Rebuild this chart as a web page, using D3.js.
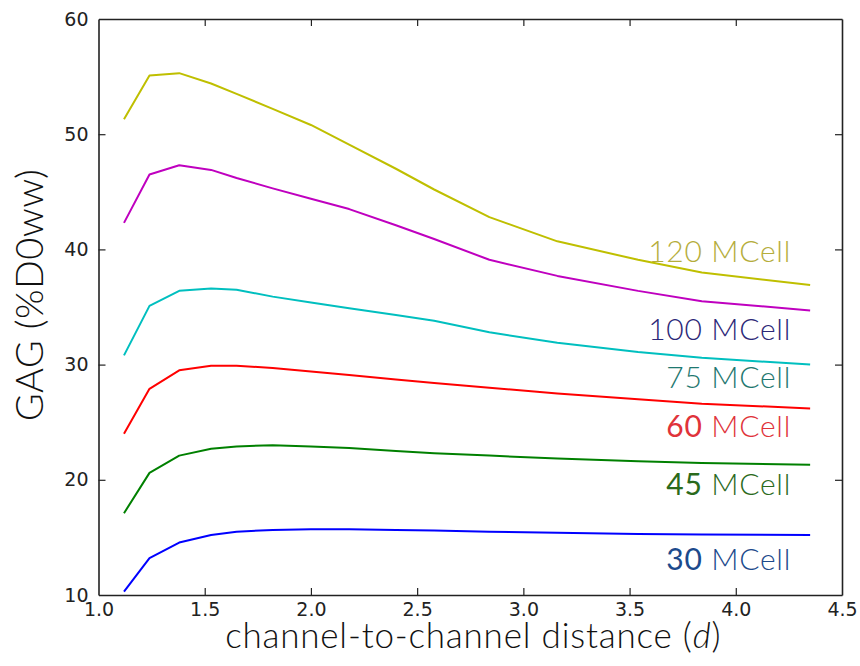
<!DOCTYPE html>
<html>
<head>
<meta charset="utf-8">
<script src="https://cdn.jsdelivr.net/npm/d3@7/dist/d3.min.js"></script>
<style>
  body { margin: 0; background: #ffffff; }
  svg { display: block; }
  .tick text { font-family: "DejaVu Sans", sans-serif; font-size: 19px; fill: #222; }
  .title { font-family: Lato, "Liberation Sans", sans-serif; font-weight: 300; fill: #111; }
</style>
</head>
<body>
<svg id="chart" width="860" height="666"></svg>
<script>
// channel-to-channel distance
var distance = [1.12, 1.24, 1.38, 1.53, 1.65, 1.82, 2.0, 2.18, 2.4, 2.58, 2.84, 3.16, 3.54, 3.84, 4.35];

var gag120 = [51.3, 55.1, 55.3, 54.4, 53.5, 52.2, 50.8, 49.1, 47.0, 45.2, 42.8, 40.7, 39.1, 38.0, 36.9];
var gag100 = [42.3, 46.5, 47.3, 46.9, 46.2, 45.3, 44.4, 43.5, 42.1, 40.9, 39.1, 37.7, 36.4, 35.5, 34.7];
var gag75  = [30.8, 35.1, 36.4, 36.6, 36.5, 35.9, 35.4, 34.9, 34.3, 33.8, 32.8, 31.9, 31.1, 30.6, 30.0];
var gag60  = [24.0, 27.9, 29.5, 29.9, 29.9, 29.7, 29.4, 29.1, 28.7, 28.4, 28.0, 27.5, 27.0, 26.6, 26.2];
var gag45  = [17.1, 20.6, 22.1, 22.7, 22.9, 23.0, 22.9, 22.75, 22.5, 22.3, 22.1, 21.85, 21.6, 21.45, 21.3];
var gag30  = [10.3, 13.2, 14.55, 15.2, 15.5, 15.65, 15.7, 15.7, 15.65, 15.6, 15.5, 15.4, 15.3, 15.25, 15.2];

var seriesNames = ["120", "100", "75", "60", "45", "30"];
var seriesValues = [gag120, gag100, gag75, gag60, gag45, gag30];
var lineColors = ["#bfbf00", "#bf00bf", "#00bfbf", "#ff0000", "#008000", "#0000ff"];
var labelColors = ["#b5ad3c", "#2c2878", "#1f7870", "#e0333a", "#2b6a1c", "#1c4a8c"];
// label anchor in data units (right end x, baseline y)
var labelX = 4.26;
var labelY = [38.9, 32.14, 27.97, 23.74, 18.68, 12.17];

var xTicks = [1.0, 1.5, 2.0, 2.5, 3.0, 3.5, 4.0, 4.5];
var yTicks = [10, 20, 30, 40, 50, 60];

var margin = {top: 19, right: 18, bottom: 71, left: 98.5};
var width = 860, height = 666;
var svg = d3.select("#chart");

var x = d3.scaleLinear().domain([1.0, 4.5]).range([margin.left, width - margin.right]);
var y = d3.scaleLinear().domain([10, 60]).range([height - margin.bottom, margin.top]);

var line = d3.line()
    .x(function(d) { return x(d[0]); })
    .y(function(d) { return y(d[1]); });

seriesValues.forEach(function(vals, i) {
    var pts = distance.map(function(dv, j) { return [dv, vals[j]]; });
    svg.append("path")
        .attr("d", line(pts))
        .attr("fill", "none")
        .attr("stroke", lineColors[i])
        .attr("stroke-width", 2)
        .attr("stroke-linejoin", "round");
});

// axes, ticks pointing inward on all four sides
var fmt = d3.format(".1f");
var axBottom = svg.append("g").attr("transform", "translate(0," + y(10) + ")")
    .call(d3.axisBottom(x).tickValues(xTicks).tickFormat(fmt).tickSizeInner(-7).tickSizeOuter(0).tickPadding(8));
var axTop = svg.append("g").attr("transform", "translate(0," + y(60) + ")")
    .call(d3.axisTop(x).tickValues(xTicks).tickFormat("").tickSizeInner(-7).tickSizeOuter(0));
var axLeft = svg.append("g").attr("transform", "translate(" + x(1.0) + ",0)")
    .call(d3.axisLeft(y).tickValues(yTicks).tickFormat(d3.format("d")).tickSizeInner(-7).tickSizeOuter(0).tickPadding(10));
var axRight = svg.append("g").attr("transform", "translate(" + x(4.5) + ",0)")
    .call(d3.axisRight(y).tickValues(yTicks).tickFormat("").tickSizeInner(-7).tickSizeOuter(0));

[axBottom, axTop, axLeft, axRight].forEach(function(g) {
    g.select(".domain").attr("stroke", "#222").attr("stroke-width", 1.6);
    g.selectAll(".tick line").attr("stroke", "#222").attr("stroke-width", 1.2);
});
// ticks sitting on box corners are hidden by the frame in the reference
axBottom.selectAll(".tick line").filter(function(d) { return d == 1.0 || d == 4.5; }).remove();
axTop.selectAll(".tick line").filter(function(d) { return d == 1.0 || d == 4.5; }).remove();
axLeft.selectAll(".tick line").filter(function(d) { return d == 10 || d == 60; }).remove();
axRight.selectAll(".tick line").filter(function(d) { return d == 10 || d == 60; }).remove();

// series labels
seriesNames.forEach(function(name, i) {
    var t = svg.append("text")
        .attr("class", "title")
        .attr("x", x(labelX))
        .attr("y", y(labelY[i]))
        .attr("text-anchor", "end")
        .attr("font-size", 30)
        .attr("letter-spacing", 0.7)
        .style("fill", labelColors[i]);
    t.append("tspan").attr("font-weight", i > 2 ? 400 : 300).text(name);
    t.append("tspan").text(" MCell");
});

// axis titles
var xt = svg.append("text")
    .attr("class", "title")
    .attr("x", (x(1.0) + x(4.5)) / 2 + 3)
    .attr("y", 648)
    .attr("text-anchor", "middle")
    .attr("font-size", 35)
    .attr("letter-spacing", 0.8);
xt.append("tspan").text("channel-to-channel distance (");
xt.append("tspan").attr("font-style", "italic").text("d");
xt.append("tspan").text(")");

svg.append("text")
    .attr("class", "title")
    .attr("transform", "translate(43,295) rotate(-90)")
    .attr("text-anchor", "middle")
    .attr("font-size", 38)
    .attr("letter-spacing", 0.4)
    .text("GAG (%D0ww)");
</script>
</body>
</html>
